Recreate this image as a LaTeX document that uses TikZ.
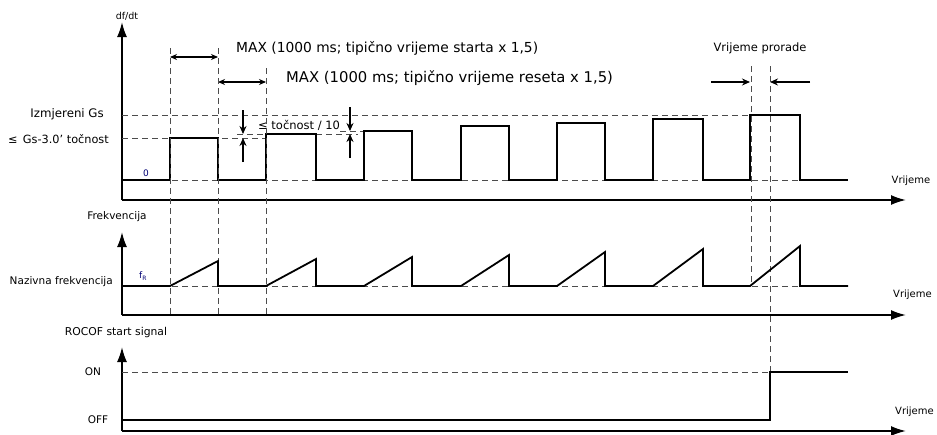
\documentclass[tikz,border=0pt]{standalone}
\usepackage{fontspec}
\setmainfont{DejaVu Sans}
\usetikzlibrary{arrows.meta}

\begin{document}
\begin{tikzpicture}[x=1pt, y=-1pt,
  os/.style={line width=1.8pt, -{Latex[length=15pt,width=10pt]}},
  signal/.style={line width=1.8pt},
  crt/.style={dash pattern=on 6pt off 4pt, line width=0.9pt, black!70},
  mjera/.style={line width=1.2pt, {Stealth[length=7pt,width=6pt]}-{Stealth[length=7pt,width=6pt]}},
  strelica/.style={line width=1.2pt, -{Stealth[length=8pt,width=7pt]}},
  txt/.style={inner sep=0pt, font=\fontsize{13.8}{16}\selectfont},
  sitno/.style={inner sep=0pt, font=\fontsize{10.5}{12}\selectfont},
  plavo/.style={inner sep=0pt, text=black!55!blue, font=\fontsize{9}{10}\selectfont}]

\useasboundingbox (0,0) rectangle (937,434);

% Parametri
\def\lijevo{122}
\def\kraj{848}
\def\desno{906}
\def\nula{180}
\def\nazivna{286}
\def\off{420}
\def\on{372}

% ---- df/dt ----
\draw[os] (\lijevo,200) -- (\lijevo,22);
\draw[os] (\lijevo,200) -- (\desno,200);
\node[sitno, font=\fontsize{9.5}{11}\selectfont] (dfdt) at (127,16) {df/dt};
\node[sitno, font=\fontsize{10}{12}\selectfont] (vr1) at (911,181) {Vrijeme};

% Pomocne crtkane linije
\draw[crt] (\lijevo,\nula) -- (\kraj,\nula);
\draw[crt] (\lijevo,115) -- (750,115);
\draw[crt] (\lijevo,138) -- (265,138);
\draw[crt] (237,134) -- (266,134);
\draw[crt] (316,134) -- (358,134);
\draw[crt] (340,131) -- (364,131);

% Impulsi
\draw[signal] (\lijevo,\nula)
  foreach \a/\b/\h in {170/218/138, 266/316/134, 364/412/131, 461/509/126,
                       557/605/123, 653/703/119, 750/800/115}
  { -- (\a,\nula) -- (\a,\h) -- (\b,\h) -- (\b,\nula) } -- (\kraj,\nula);

\node[txt, anchor=east, font=\fontsize{11.8}{14}\selectfont] (izmj) at (104,114) {Izmjereni Gs};
\node[txt, anchor=east, font=\fontsize{11.3}{14}\selectfont] (gs) at (109,139) {≤\, Gs-3.0' točnost};
\node[plavo] (nula) at (146,173) {0};

% Vremena starta i reseta
\draw[mjera] (170,57) -- (218,57);
\draw[mjera] (218,82) -- (266,82);
\node[txt, anchor=west] (start) at (236,48) {MAX (1000 ms; tipično vrijeme starta x 1,5)};
\node[txt, anchor=west, font=\fontsize{14.8}{17}\selectfont] (reset) at (286,78) {MAX (1000 ms; tipično vrijeme reseta x 1,5)};

% Tocnost / 10
\draw[strelica] (243,110) -- (243,134);
\draw[strelica] (243,162) -- (243,138);
\draw[strelica] (350,107) -- (350,131);
\draw[strelica] (350,158) -- (350,134);
\node[sitno, anchor=west, font=\fontsize{11.5}{13}\selectfont] (tocn) at (258,125) {≤ točnost / 10};

% Vrijeme prorade
\draw[strelica] (711,82) -- (750,82);
\draw[strelica] (810,82) -- (770,82);
\node[sitno, font=\fontsize{11.5}{13}\selectfont] (prorada) at (760,48) {Vrijeme prorade};

% Okomite crtkane linije
\draw[crt] (170,48) -- (170,315);
\draw[crt] (218,48) -- (218,315);
\draw[crt] (266,68) -- (266,315);
\draw[crt] (751,66) -- (751,\nazivna);
\draw[crt] (770,66) -- (770,\on);

% ---- Frekvencija ----
\draw[os] (\lijevo,315) -- (\lijevo,232);
\draw[os] (\lijevo,315) -- (\desno,315);
\node[sitno] (frek) at (117,217) {Frekvencija};
\node[sitno, anchor=east] (naz) at (113,282) {Nazivna frekvencija};
\node[plavo] (fr) at (143,276) {f\textsubscript{R}};
\node[sitno, anchor=west, font=\fontsize{10}{12}\selectfont] (vr2) at (893,295) {Vrijeme};

\draw[crt] (\lijevo,\nazivna) -- (\kraj,\nazivna);
\draw[signal] (\lijevo,\nazivna)
  foreach \a/\b/\p in {170/218/261, 266/316/259, 364/412/257, 461/509/255,
                       557/605/252, 653/703/249, 750/800/246}
  { -- (\a,\nazivna) -- (\b,\p) -- (\b,\nazivna) } -- (\kraj,\nazivna);

% ---- ROCOF ----
\draw[os] (\lijevo,431) -- (\lijevo,347);
\draw[os] (\lijevo,431) -- (\desno,431);
\node[sitno, font=\fontsize{10.8}{12}\selectfont] (rocof) at (116,333) {ROCOF start signal};
\node[sitno] (onl) at (93,372) {ON};
\node[sitno] (offl) at (98,420) {OFF};
\node[sitno, anchor=west, font=\fontsize{10}{12}\selectfont] (vr3) at (895,412) {Vrijeme};

\draw[crt] (\lijevo,\on) -- (770,\on);
\draw[signal] (\lijevo,\off) -- (770,\off) -- (770,\on) -- (\kraj,\on);

\end{tikzpicture}
\end{document}
